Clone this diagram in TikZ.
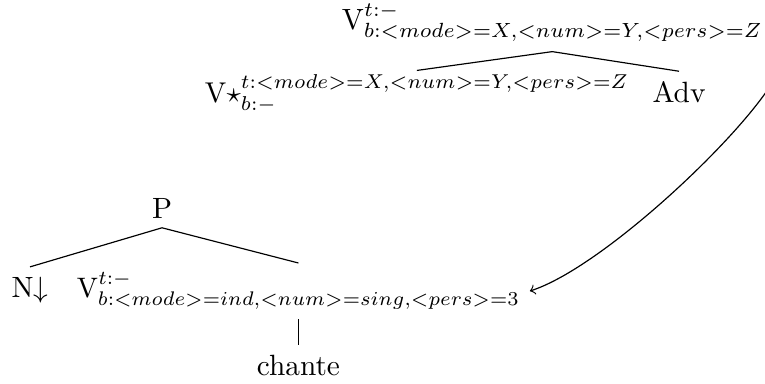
\documentclass[tikz,border=0pt]{standalone}
\usepackage{amssymb}
\begin{document}
\begin{tikzpicture}[x=0.341pt,y=-0.341pt,
  lab/.style={inner sep=0.3333em,outer sep=0pt,anchor=base},
  labw/.style={inner sep=0.3333em,outer sep=0pt,anchor=base west},
  edge/.style={draw,line width=0.4pt}]
\useasboundingbox (0,0) rectangle (765,383);
% top tree
\node[labw] (vtop) at (332,29) {$\mathrm{V}^{t:-}_{b:<mode>=X,<num>=Y,<pers>=Z}$};
\node[labw] (vstar) at (195,102) {\scalebox{0.976}{$\mathrm{V}{\star}^{t:<mode>=X,<num>=Y,<pers>=Z}_{b:-}$}};
\node[lab] (adv) at (679,102) {Adv};
\draw[edge] ([yshift=-2pt]vstar.north) -- (vtop.south) -- (adv.north);
% bottom tree
\node[lab] (p) at (162,218) {P};
\node[lab] (n) at (30,297) {N$\downarrow$};
\node[labw] (vb) at (67,297) {\scalebox{0.96}{$\mathrm{V}^{t:-}_{b:<mode>=ind,<num>=sing,<pers>=3}$}};
\node[lab] (ch) at (vb.base |- 0,375) {chante};
\draw[edge] (n.north) -- (p.south) -- (vb.north);
\draw[edge] (vb.south) -- (ch.north);
% arrow
\draw[->] (vtop.south east) .. controls +(55,0) and +(93,-30) .. (vb.east);
\end{tikzpicture}
\end{document}
